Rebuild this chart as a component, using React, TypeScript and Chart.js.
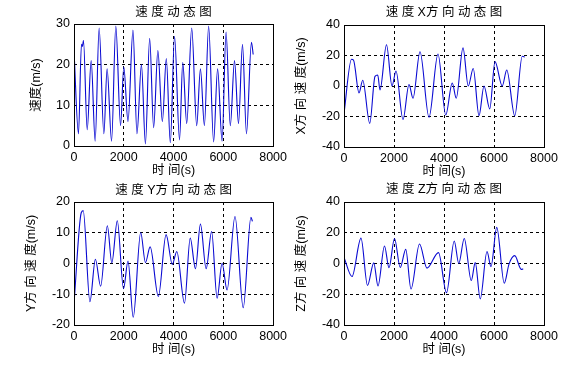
import React, { useEffect, useRef } from "react";
import { Chart, registerables } from "chart.js";

Chart.register(...registerables);

// ---------- data ----------
const timeTicks = [0, 2000, 4000, 6000, 8000];

const speedTime = [0, 180, 300, 340, 380, 530, 690, 850, 1010, 1200, 1330, 1510, 1680, 1870, 2000, 2170, 2370, 2530, 2710, 2870, 3040, 3200, 3370, 3550, 3710, 3870, 4040, 4240, 4370, 4530, 4730, 4930, 5080, 5240, 5410, 5610, 5770, 5950, 6110, 6280, 6450, 6610, 6770, 6930, 7130, 7200];
const speedValue = [23.5, 3, 25, 24.5, 26, 4, 21, 1.2, 29, 3, 19, 1.2, 29.5, 5, 19.5, 6, 28.5, 3, 20, 0.5, 26.5, 4.5, 23.5, 6, 21.5, 0.8, 27, 1.5, 20.5, 5.5, 29, 5, 19, 5, 29.5, 1, 19, 1.2, 28, 5, 21, 5.5, 25, 3, 25.5, 22.5];
const speedTicks = [0, 10, 20, 30];

const vxTime = [0, 300, 380, 600, 750, 1030, 1240, 1350, 1440, 1700, 1920, 2080, 2360, 2600, 2760, 3040, 3400, 3760, 4070, 4330, 4490, 4760, 4970, 5170, 5400, 5600, 5830, 6040, 6330, 6510, 6830, 7130, 7230];
const vxValue = [-18, 17.5, 17, -4.5, 3.8, -24.5, 6.3, 7.2, -2.6, 27, 0, 9.8, -22, 1, -8, 22.5, -20.5, 21, -19, 2, -8, 25, 0, 11.5, -19.5, 0, -15, 16, 0, 10.5, -19.5, 19.5, 19];
const vxTicks = [-40, -20, 0, 20, 40];

const vyTime = [0, 290, 370, 640, 860, 1070, 1340, 1520, 1740, 1990, 2170, 2380, 2680, 2870, 3060, 3390, 3700, 3950, 4130, 4440, 4670, 4880, 5080, 5310, 5530, 5750, 5950, 6150, 6470, 6800, 7110, 7170];
const vyValue = [-13, 16.5, 17.2, -12.4, 1.4, -7.4, 12.3, 0.2, 13.9, -8.2, 0.8, -17.5, 10.1, 0.3, 5.4, -10.7, 9.4, -0.3, 3.9, -12.9, 8.3, -1.7, 12.8, -1.7, 10.4, -11.3, 0.1, -8.6, 15.3, -14.4, 15, 13.7];
const vyTicks = [-20, -10, 0, 10, 20];

const vzTime = [0, 320, 680, 940, 1190, 1360, 1620, 1800, 2020, 2250, 2470, 2680, 3020, 3320, 3780, 4100, 4410, 4590, 4810, 5090, 5250, 5450, 5720, 5880, 6110, 6410, 6600, 6830, 7090, 7170];
const vzValue = [4, -8.5, 16.5, -14.3, 0.4, -14.6, 11.4, -2.8, 16.3, -2.6, 9.2, -16.6, 12.7, -3, 7.1, -19, 14.6, 0, 16.3, -11.1, 0.6, -23, 7.8, -2, 23.5, -12.8, -0.4, 5.1, -3.8, -3.6];
const vzTicks = [-40, -20, 0, 20, 40];

const titles = ["速 度 动 态 图", "速 度 X方 向 动 态 图", "速 度 Y方 向 动 态 图", "速 度 Z方 向 动 态 图"];
const yTitles = ["速度(m/s)", "X方 向 速 度(m/s)", "Y方 向 速 度(m/s)", "Z方 向 速 度(m/s)"];
const xTitle = "时 间(s)";

// ---------- layout / style ----------
const FONT = "'Liberation Sans', Arial, 'Noto Sans CJK SC', sans-serif";
const LINE_COLOR = "#0a0ad2";
const TICK_SIZE = 12.5;
const LABEL_SIZE = 12.5;

type PanelCfg = {
  x: number; y: number; w: number; h: number;
  L: number; R: number; T: number; B: number;
  titlePadTop: number; yTitleX: number; xTitleY: number;
  time: number[]; values: number[]; yTicks: number[];
  title: string; yTitle: string;
};

const panels: PanelCfg[] = [
  { x: 0, y: 0, w: 291, h: 182, L: 74, R: 274, T: 24, B: 146, titlePadTop: 5, yTitleX: 36.7, xTitleY: 171,
    time: speedTime, values: speedValue, yTicks: speedTicks, title: titles[0], yTitle: yTitles[0] },
  { x: 292, y: 0, w: 291, h: 182, L: 52, R: 252, T: 25, B: 147, titlePadTop: 5, yTitleX: 9.5, xTitleY: 171.5,
    time: vxTime, values: vxValue, yTicks: vxTicks, title: titles[1], yTitle: yTitles[1] },
  { x: 0, y: 182, w: 291, h: 183, L: 74, R: 274, T: 20, B: 143, titlePadTop: 1, yTitleX: 32, xTitleY: 167.5,
    time: vyTime, values: vyValue, yTicks: vyTicks, title: titles[2], yTitle: yTitles[2] },
  { x: 292, y: 182, w: 291, h: 183, L: 52, R: 252, T: 20, B: 143, titlePadTop: 0.5, yTitleX: 9.2, xTitleY: 167.5,
    time: vzTime, values: vzValue, yTicks: vzTicks, title: titles[3], yTitle: yTitles[3] },
];

const boxPlugin = {
  id: "matlabBox",
  afterDatasetsDraw(chart: any) {
    const { ctx, chartArea } = chart;
    const l = Math.round(chartArea.left), t = Math.round(chartArea.top);
    const r = Math.round(chartArea.right), b = Math.round(chartArea.bottom);
    ctx.save();
    ctx.strokeStyle = "#000";
    ctx.lineWidth = 1;
    ctx.setLineDash([]);
    ctx.strokeRect(l + 0.5, t + 0.5, r - l, b - t);
    ctx.restore();
  },
};

function Panel({ cfg }: { cfg: PanelCfg }) {
  const ref = useRef<HTMLCanvasElement>(null);
  useEffect(() => {
    const LH = LABEL_SIZE * 1.2;
    const gridColor = (ctx: any) => {
      const n = ctx.scale?.ticks?.length ?? 0;
      return ctx.index === 0 || ctx.index === n - 1 ? "rgba(0,0,0,0)" : "#000";
    };
    const plain = (v: any) => String(v);
    const chart = new Chart(ref.current as HTMLCanvasElement, {
      type: "line",
      data: {
        datasets: [
          {
            data: cfg.time.map((t, i) => ({ x: t, y: cfg.values[i] })),
            borderColor: LINE_COLOR,
            borderWidth: 1.1,
            pointRadius: 0,
            fill: false,
            cubicInterpolationMode: "monotone",
          },
        ],
      },
      options: {
        responsive: false,
        animation: false,
        events: [],
        layout: { padding: { left: 0, top: 0, right: cfg.w - cfg.R, bottom: 0 } },
        plugins: {
          legend: { display: false },
          tooltip: { enabled: false },
          title: {
            display: true,
            fullSize: false,
            text: cfg.title,
            color: "#000",
            font: { family: FONT, size: LABEL_SIZE, weight: "normal", lineHeight: 1.2 },
            padding: { top: cfg.titlePadTop, bottom: cfg.T - LH - cfg.titlePadTop },
          },
        },
        scales: {
          x: {
            type: "linear",
            min: timeTicks[0],
            max: timeTicks[timeTicks.length - 1],
            afterBuildTicks: (s: any) => { s.ticks = timeTicks.map((v) => ({ value: v })); },
            afterFit: (s: any) => { s.height = cfg.h - cfg.B; },
            grid: { color: gridColor, lineWidth: 1, drawTicks: false },
            border: { display: false, dash: [3, 3] },
            ticks: { color: "#000", padding: 4, maxRotation: 0, autoSkip: false, callback: plain, font: { family: FONT, size: TICK_SIZE } },
            title: {
              display: true,
              text: xTitle,
              color: "#000",
              font: { family: FONT, size: LABEL_SIZE, lineHeight: 1.2 },
              padding: { top: 0, bottom: cfg.h - cfg.xTitleY - LH / 2 },
            },
          },
          y: {
            type: "linear",
            min: cfg.yTicks[0],
            max: cfg.yTicks[cfg.yTicks.length - 1],
            afterBuildTicks: (s: any) => { s.ticks = cfg.yTicks.map((v) => ({ value: v })); },
            afterFit: (s: any) => { s.width = cfg.L; },
            grid: { color: gridColor, lineWidth: 1, drawTicks: false },
            border: { display: false, dash: [3, 3] },
            ticks: { color: "#000", padding: 4, autoSkip: false, callback: plain, font: { family: FONT, size: TICK_SIZE } },
            title: {
              display: true,
              text: cfg.yTitle,
              color: "#000",
              font: { family: FONT, size: LABEL_SIZE, lineHeight: 1.2 },
              padding: { top: cfg.yTitleX - LH / 2, bottom: 0 },
            },
          },
        },
      },
      plugins: [boxPlugin],
    } as any);
    return () => chart.destroy();
  }, [cfg]);
  return (
    <div style={{ position: "absolute", left: cfg.x, top: cfg.y, width: cfg.w, height: cfg.h }}>
      <canvas ref={ref} width={cfg.w} height={cfg.h} style={{ display: "block" }} />
    </div>
  );
}

export default function App() {
  return (
    <div style={{ position: "absolute", left: 0, top: 0, width: 583, height: 365, background: "#fff", overflow: "hidden" }}>
      {panels.map((p, i) => (
        <Panel key={i} cfg={p} />
      ))}
    </div>
  );
}
